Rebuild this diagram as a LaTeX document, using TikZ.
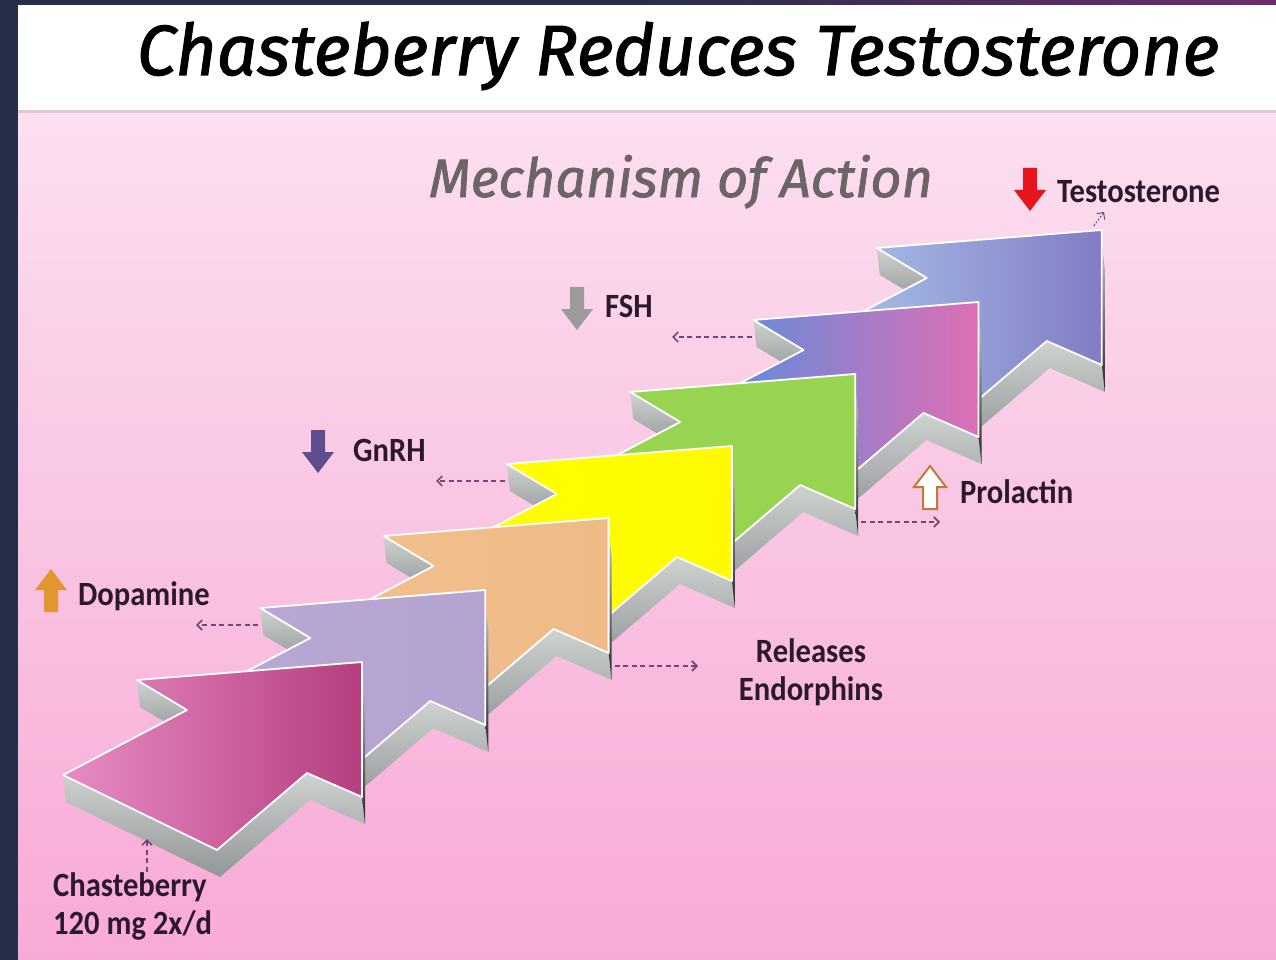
\documentclass[tikz,border=0pt]{standalone}
\usepackage{fontspec}
\usepackage{xcolor}
\usepackage{tikz}
\usetikzlibrary{arrows.meta, positioning, calc}

\newfontfamily\headfont{Fira Sans}[FakeBold=1.5]
\newfontfamily\lblfont{Carlito}[FakeStretch=0.9]

\definecolor{navy}{RGB}{38,47,72}
\definecolor{plum}{RGB}{110,44,112}
\definecolor{rulec}{RGB}{226,200,214}
\definecolor{pinkT}{RGB}{252,223,240}
\definecolor{pinkB}{RGB}{248,170,214}
\definecolor{ink}{RGB}{45,25,45}
\definecolor{subgrey}{RGB}{108,100,106}
\definecolor{linkc}{RGB}{118,70,116}
\definecolor{sideT}{RGB}{206,210,208}
\definecolor{sideB}{RGB}{146,150,152}
\definecolor{berryL}{RGB}{230,140,196}
\definecolor{berryR}{RGB}{182,62,126}
\definecolor{lilacL}{RGB}{186,168,212}
\definecolor{lilacR}{RGB}{180,162,208}
\definecolor{peachL}{RGB}{242,192,142}
\definecolor{peachR}{RGB}{238,186,136}
\definecolor{lemonL}{RGB}{255,255,0}
\definecolor{lemonR}{RGB}{255,250,0}
\definecolor{limeL}{RGB}{150,214,82}
\definecolor{limeR}{RGB}{152,212,80}
\definecolor{blushL}{RGB}{72,146,226}
\definecolor{blushR}{RGB}{222,110,180}
\definecolor{skyL}{RGB}{172,202,236}
\definecolor{skyR}{RGB}{130,124,196}
\definecolor{dopac}{RGB}{226,150,48}
\definecolor{gnrhc}{RGB}{94,78,142}
\definecolor{fshc}{RGB}{156,154,156}
\definecolor{testoc}{RGB}{232,22,28}
\definecolor{prolc}{RGB}{193,122,53}

\begin{document}
\begin{tikzpicture}[x=1pt, y=-1pt, >=Stealth,
    lbl/.style={font=\lblfont\bfseries\fontsize{34}{38}\selectfont, text=ink, inner sep=0pt},
    link/.style={draw=linkc, line width=1.7pt, dash pattern=on 5pt off 3.5pt, -{Straight Barb[length=5pt, width=10pt]}},
    side/.style={top color=sideT, bottom color=sideB},
    rim/.style={top color=gray!45, bottom color=black!85},
    updown/.pic={\path[pic actions] (-7,0) -- (-7,-22) -- (-16,-22) -- (0,-43) -- (16,-22) -- (7,-22) -- (7,0) -- cycle;}]
    \useasboundingbox (0,0) rectangle (1276,960);

    % frame and backdrop
    \fill[navy] (0,0) rectangle (1276,960);
    \shade[left color=navy, right color=plum] (640,0) rectangle (1276,6);
    \fill[white] (18,5) rectangle (1276,111);
    \fill[rulec] (18,110) rectangle (1276,114);
    \shade[top color=pinkT, bottom color=pinkB] (18,114) rectangle (1276,960);

    \node[font=\headfont\itshape\fontsize{71}{75}\selectfont, anchor=base] (title) at (678,75) {Chasteberry Reduces Testosterone};
    \node[font=\headfont\itshape\fontsize{54}{58}\selectfont, text=subgrey, anchor=base] (subtitle) at (681,197) {Mechanism of Action};

    % the stair of arrows, back to front
    \foreach \k/\lc/\rc in {6/skyL/skyR, 5/blushL/blushR, 4/limeL/limeR, 3/lemonL/lemonR, 2/peachL/peachR, 1/lilacL/lilacR, 0/berryL/berryR} {
        \begin{scope}[shift={(362+123.3*\k,662-72*\k)}]
            \path[side] (-225,18) -- (-175,48) -- ++(3,27) -- (-222,45) -- cycle;
            \path[side] (-299,113) -- (-145,188) -- (-55,111) -- (0,135) -- ++(3,27) -- (-52,138) -- (-142,215) -- (-296,140) -- cycle;
            \path[rim] (0,12) -- (0,135) -- ++(3,27) -- (3,40) -- cycle;
            \path[draw=white, line width=1.8pt, line join=round, left color=\lc, right color=\rc] (0,0) -- (-225,18) -- (-175,48) -- (-299,113) -- (-145,188) -- (-55,111) -- (0,135) -- cycle;
            \coordinate (arr\k-tail) at (-227,35);
            \coordinate (arr\k-heel) at (6,148);
            \coordinate (arr\k-tip) at (-8,-4);
            \coordinate (arr\k-base) at (-215,177);
        \end{scope}
    }

    % labels
    \node[lbl, anchor=base west] (dopamine) at (78,605) {Dopamine};
    \node[lbl, anchor=base west] (gnrh) at (353,461) {GnRH};
    \node[lbl, anchor=base west] (fsh) at (605,317) {FSH};
    \node[lbl, anchor=base west] (testo) at (1057,203) {Testosterone};
    \node[lbl, anchor=base west] (prol) at (960,503) {Prolactin};
    \node[lbl, align=center, anchor=base] (endo) at (811,700) {Releases\\Endorphins};
    \node[lbl, align=left, anchor=base west] (chaste) at (53,934) {Chasteberry\\120 mg 2x/d};

    \pic[fill=dopac] at (51,612) {updown};
    \pic[fill=gnrhc, rotate=180] at (318,430) {updown};
    \pic[fill=fshc, rotate=180] at (577,287) {updown};
    \pic[fill=testoc, rotate=180] at (1030,168) {updown};
    \pic[fill=white, draw=prolc, line width=2pt] at (930,509) {updown};

    \coordinate (dopa-pt) at (196,627);
    \coordinate (gnrh-pt) at (436,480);
    \coordinate (fsh-pt) at (672,335);
    \coordinate (endo-pt) at (698,668);
    \coordinate (prol-pt) at (940,516);
    \coordinate (testo-pt) at (1104,212);

    \draw[link] (arr1-tail) -- (arr1-tail -| dopa-pt);
    \draw[link] (arr3-tail) -- (arr3-tail -| gnrh-pt);
    \draw[link] (arr5-tail) -- (arr5-tail -| fsh-pt);
    \draw[link] (arr2-heel) -- (arr2-heel -| endo-pt);
    \draw[link] (arr4-heel) -- (arr4-heel -| prol-pt);
    \draw[link, line width=1pt, dash pattern=on 2pt off 1.5pt] (arr6-tip) -- (testo-pt);
    \draw[link] (chaste.north -| arr0-base) -- (arr0-base);
\end{tikzpicture}
\end{document}
